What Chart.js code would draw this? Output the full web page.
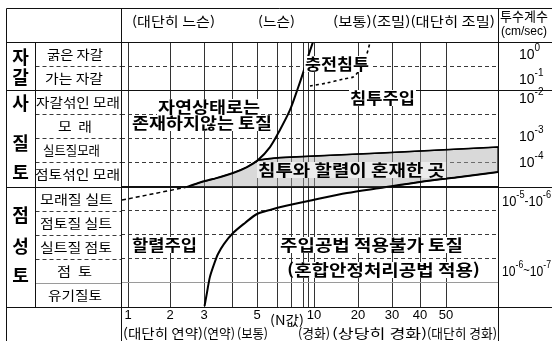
<!DOCTYPE html>
<html lang="ko">
<head>
<meta charset="utf-8">
<title>N값과 투수계수에 따른 주입공법 적용 범위</title>
<script src="https://cdn.jsdelivr.net/npm/chart.js@4.4.1/dist/chart.umd.min.js"></script>
<style>
  html, body { margin: 0; padding: 0; background: #fff; }
  #box { width: 552px; height: 341px; }
</style>
</head>
<body>
<div id="box"><canvas id="chart" width="552" height="341"></canvas></div>
<script>
// ---------- data ----------
// N value gridlines along the bottom axis
const nTicks      = [1, 2, 3, 4, 5, 6, 7, 8, 9, 10, 20, 30, 40, 50];
const nTickLabels = ['1', '2', '3', '', '5', '', '', '', '', '10', '20', '30', '40', '50'];

// soil classification rows, top to bottom
const soilGroups = [['자', '갈'], ['사', '질', '토'], ['점', '성', '토']];
const soilRows = ['굵은 자갈', '가는 자갈', '자갈섞인 모래', '모  래', '실트질모래', '점토섞인 모래',
                  '모래질 실트', '점토질 실트', '실트질 점토', '점  토', '유기질토'];

// permeability coefficient (cm/sec) exponents and the row position they sit at
const permExponents = [['0'], ['-1'], ['-2'], ['-3'], ['-4'], ['-5', '-6'], ['-6', '-7']];
const permJoiners   = ['', '', '', '', '', '-', '~'];
const permRows      = [0.46, 1.49, 2.3, 3.86, 4.94, 6.56, 9.46];

const densityLabels     = ['(대단히 느슨)', '(느슨)', '(보통)(조밀)(대단히 조밀)'];
const consistencyLabels = ['(대단히 연약)', '(연약)', '(보통)', '(경화)', '(상당히 경화)', '(대단히 경화)'];

// boundary curves: N value vs. row position (0 = top of 굵은 자갈, 11 = bottom of 유기질토)
const fractureN   = [3.02, 3.11, 3.21, 3.36, 3.5, 3.71, 4.04, 4.52, 5.0, 5.65, 6.57, 9.83, 17.5, 26.5, 40, 55.4, 70];
const fractureRow = [10.96, 10.38, 9.76, 9.22, 8.80, 8.39, 7.93, 7.51, 7.14, 6.97, 6.81, 6.56, 6.27, 6.06, 5.81, 5.60, 5.40];

const permeationExtN   = [0.857, 2.5];
const permeationExtRow = [6.56, 6.02];
const permeationN   = [2.5, 2.88, 3.32, 4.04, 4.6, 5.05, 5.65, 6.21, 6.93, 7.58, 8.0, 9.0, 9.83];
const permeationRow = [6.02, 5.83, 5.69, 5.44, 5.19, 4.90, 4.36, 3.65, 2.82, 1.91, 1.29, 0.62, 0.0];

const mixedTopN   = [5.05, 6.21, 26.5, 70];
const mixedTopRow = [4.90, 4.80, 4.61, 4.36];

const fillingN   = [9.33, 12.95, 16.6, 18.9, 20.0, 21.2, 22.35, 23.5];
const fillingRow = [1.83, 1.70, 1.54, 1.45, 1.25, 1.00, 0.62, 0.04];

// ---------- helpers ----------
const zip = (xs, ys) => xs.map((x, i) => ({ x, y: ys[i] }));

// mixed zone: under the permeation curve / upper line, above the 사질토 base row and the fracture curve
function buildMixedZone() {
  const junction = mixedTopN[0];
  const upper = zip(permeationN, permeationRow).filter(p => p.x < junction)
    .concat(zip(mixedTopN, mixedTopRow));
  const baseRow = permeationRow[0];
  const fr = zip(fractureN, fractureRow);
  const k = fr.findIndex(p => p.y < baseRow);
  const a = fr[k - 1], b = fr[k];
  const t = (a.y - baseRow) / (a.y - b.y);
  const cross = { x: a.x + t * (b.x - a.x), y: baseRow };
  const lower = [{ x: upper[0].x, y: baseRow }, cross].concat(fr.slice(k));
  return upper.concat(lower.reverse());
}

// The N axis of this diagram is hand-spaced, so it is mapped piecewise between knots.
// knot = [N value, offset in px from the left edge of the plot, out of the plot width]
const nAxisKnots = [[0.833, 0], [1, 7], [2, 49], [3, 83], [4, 111], [5, 136], [6, 156], [7, 170],
                    [8, 182], [9, 187], [10, 193], [20, 237], [30, 271], [40, 299], [50, 325], [70, 377]];
const nAxisSpan = 377;

class PiecewiseScale extends Chart.LinearScale {
  _toDecimal(v) {
    const k = nAxisKnots;
    if (v <= k[0][0]) return 0;
    for (let i = 1; i < k.length; i++) {
      if (v <= k[i][0]) {
        const t = (v - k[i - 1][0]) / (k[i][0] - k[i - 1][0]);
        return (k[i - 1][1] + t * (k[i][1] - k[i - 1][1])) / nAxisSpan;
      }
    }
    return 1;
  }
  _fromDecimal(d) {
    const k = nAxisKnots, px = d * nAxisSpan;
    for (let i = 1; i < k.length; i++) {
      if (px <= k[i][1]) {
        const t = (px - k[i - 1][1]) / (k[i][1] - k[i - 1][1]);
        return k[i - 1][0] + t * (k[i][0] - k[i - 1][0]);
      }
    }
    return k[k.length - 1][0];
  }
  getPixelForValue(v) {
    if (v === null || v === undefined || isNaN(v)) return NaN;
    return this.getPixelForDecimal(this._toDecimal(v));
  }
  getValueForPixel(p) {
    return this._fromDecimal(this.getDecimalForPixel(p));
  }
}
PiecewiseScale.id = 'piecewise';
PiecewiseScale.defaults = Chart.LinearScale.defaults;
Chart.register(PiecewiseScale);

const rowEdges = Array.from({ length: soilRows.length - 1 }, (_, i) => i + 1);
const groupEdges = [2, 6];
function rowLine(v) {
  if (groupEdges.includes(v)) return { color: '#111', dash: [] };
  if (v === 10) return { color: '#9a9a9a', dash: [] };
  return { color: '#3a3a3a', dash: [4, 3] };
}

const KR = '"Noto Sans CJK KR", "Noto Sans", sans-serif';
const LAT = '"Liberation Sans", Arial, sans-serif';

// draw a single line of text stretched to fill [x0, x1]
function fitText(ctx, text, x0, x1, y, font, color) {
  ctx.save();
  ctx.font = font;
  const w = ctx.measureText(text).width;
  ctx.translate(x0, y);
  ctx.scale((x1 - x0) / w, 1);
  ctx.textAlign = 'left';
  ctx.textBaseline = 'middle';
  ctx.fillStyle = color || '#000';
  ctx.fillText(text, 0, 0);
  ctx.restore();
}

// "10" with raised exponent(s); optional maximum width squeezes the whole run
function drawPower(ctx, exps, joiner, x, y, maxW) {
  const parts = [];
  exps.forEach((e, j) => {
    if (j > 0) parts.push([joiner, `13px ${LAT}`, 0]);
    parts.push(['10', `14px ${LAT}`, 1]);
    parts.push([e, `10px ${LAT}`, -6]);
  });
  let total = 0;
  parts.forEach(p => { ctx.font = p[1]; p.push(ctx.measureText(p[0]).width); total += p[3]; });
  const s = maxW && total > maxW ? maxW / total : 1;
  ctx.save();
  ctx.translate(x, y);
  ctx.scale(s, 1);
  ctx.textAlign = 'left';
  ctx.textBaseline = 'middle';
  ctx.fillStyle = '#000';
  let cx = 0;
  parts.forEach(p => { ctx.font = p[1]; ctx.fillText(p[0], cx, p[2]); cx += p[3]; });
  ctx.restore();
}

// region captions inside the plot: [text, x0, x1, y, background]
const regionNotes = [
  ['자연상태로는', 158, 260, 107, '#fff'],
  ['존재하지않는 토질', 132, 272, 123, '#fff'],
  ['충전침투', 305, 369, 64, '#fff'],
  ['침투주입', 350, 415, 98, '#fff'],
  ['침투와 할렬이 혼재한 곳', 258, 445, 170, '#ececec'],
  ['할렬주입', 132, 197, 245, '#fff'],
  ['주입공법 적용불가 토질', 280, 463, 245, '#fff'],
  ['(혼합안정처리공법 적용)', 287, 480, 270, '#fff']
];
const densitySpans = [[132, 215], [258, 295], [333, 495]];
const consistencySpans = [[123, 203], [203, 235], [237, 268], [298, 330], [332, 427], [427, 497]];
const rowLabelSpans = [[47, 103], [45, 103], [36, 120], [58, 92], [43, 100], [35, 120],
                       [40, 113], [40, 112], [40, 112], [57, 92], [48, 102]];
const groupGlyphY = [[57, 77], [103, 143, 172], [215, 246, 275]];

const tablePlugin = {
  id: 'soilTable',
  beforeDraw(chart) {
    const { ctx, width, height } = chart;
    ctx.save();
    ctx.fillStyle = '#fff';
    ctx.fillRect(0, 0, width, height);
    ctx.restore();
  },
  afterDraw(chart) {
    const { ctx, chartArea: a, width, height } = chart;
    const ys = chart.scales.y;
    const yPx = r => Math.round(ys.getPixelForValue(r)) + 0.5;
    const L = 6.5, G = 35.5, P = Math.round(a.left) + 0.5, R = Math.round(a.right) + 0.5;
    const T = 8.5, H = Math.round(a.top) + 0.5, B = Math.round(a.bottom) + 0.5;
    const line = (x0, y0, x1, y1) => { ctx.beginPath(); ctx.moveTo(x0, y0); ctx.lineTo(x1, y1); ctx.stroke(); };

    ctx.save();
    // row separators in the name column
    ctx.lineWidth = 1;
    rowEdges.forEach(v => {
      const s = rowLine(v);
      ctx.strokeStyle = s.color;
      ctx.setLineDash(s.dash);
      line(G, yPx(v), P, yPx(v));
    });
    ctx.setLineDash([]);
    // table frame
    ctx.strokeStyle = '#111';
    line(L, T, width, T);
    line(L, H, width, H);
    line(L, B, width, B);
    groupEdges.forEach(v => line(L, yPx(v), width, yPx(v)));
    line(L, T, L, height);
    line(P, T, P, height);
    line(R, T, R, height);
    line(G, H, G, B);

    // region captions
    regionNotes.forEach(([t, x0, x1, y, bg]) => {
      ctx.fillStyle = bg;
      ctx.fillRect(x0 - 1, y - 8, x1 - x0 + 2, 16);
      fitText(ctx, t, x0, x1, y, `bold 16px ${KR}`);
    });

    // header: relative density
    densityLabels.forEach((t, i) => fitText(ctx, t, densitySpans[i][0], densitySpans[i][1], 21, `13px ${KR}`));
    ctx.fillStyle = '#000';
    ctx.textBaseline = 'middle';
    ctx.textAlign = 'left';
    ctx.font = `13px ${KR}`;
    ctx.fillText('투수계수', 500, 16);
    ctx.font = `12px ${LAT}`;
    ctx.fillText('(cm/sec)', 501, 32);

    // bottom: consistency
    consistencyLabels.forEach((t, i) => fitText(ctx, t, consistencySpans[i][0], consistencySpans[i][1], 333, `13px ${KR}`));
    fitText(ctx, '(N값)', 270, 304, 320, `13px ${KR}`);

    // soil names
    soilRows.forEach((t, i) => fitText(ctx, t, rowLabelSpans[i][0], rowLabelSpans[i][1], ys.getPixelForValue(i + 0.5), `13px ${KR}`));
    ctx.fillStyle = '#000';
    ctx.font = `bold 18px ${KR}`;
    ctx.textAlign = 'center';
    ctx.textBaseline = 'middle';
    soilGroups.forEach((g, gi) => g.forEach((ch, ci) => ctx.fillText(ch, 20.5, groupGlyphY[gi][ci])));

    // permeability coefficients
    permExponents.forEach((ex, i) => {
      const y = ys.getPixelForValue(permRows[i]) + 1;
      if (ex.length === 1) drawPower(ctx, ex, '', 519, y);
      else drawPower(ctx, ex, permJoiners[i], 502, y, 49);
    });
    ctx.restore();
  }
};

const lineBase = { showLine: true, pointRadius: 0, borderColor: '#000', fill: false };

new Chart(document.getElementById('chart'), {
  type: 'scatter',
  data: {
    datasets: [
      { ...lineBase, label: '침투 한계', data: zip(permeationN, permeationRow), borderWidth: 2, tension: 0.3 },
      { ...lineBase, label: '침투 한계 (연장)', data: zip(permeationExtN, permeationExtRow), borderWidth: 1.5, borderDash: [4, 3] },
      { ...lineBase, label: '할렬 한계', data: zip(fractureN, fractureRow), borderWidth: 2, tension: 0.3 },
      { ...lineBase, label: '혼재역 상한', data: zip(mixedTopN, mixedTopRow), borderWidth: 1.6, tension: 0.2 },
      { ...lineBase, label: '충전침투 한계', data: zip(fillingN, fillingRow), borderWidth: 1.6, borderDash: [3, 3], tension: 0.3 },
      { ...lineBase, label: '침투와 할렬이 혼재한 곳', data: buildMixedZone(), borderWidth: 1.2,
        fill: 'shape', backgroundColor: 'rgba(170,170,170,0.45)', tension: 0 }
    ]
  },
  options: {
    responsive: false,
    animation: false,
    devicePixelRatio: 1,
    layout: { padding: { left: 121, right: 54, top: 42, bottom: 0 } },
    plugins: { legend: { display: false }, tooltip: { enabled: false } },
    scales: {
      x: {
        type: 'piecewise', min: 0.833, max: 70, position: 'bottom',
        afterBuildTicks: s => { s.ticks = nTicks.map(v => ({ value: v })); },
        afterFit: s => { s.height = 34; },
        ticks: {
          autoSkip: false, maxRotation: 0, padding: 1, color: '#000',
          font: { family: 'Liberation Sans', size: 13 },
          callback: (v, i) => nTickLabels[i]
        },
        grid: { drawTicks: false, color: '#333', lineWidth: 1 },
        border: { display: false }
      },
      y: {
        type: 'linear', min: 0, max: soilRows.length, reverse: true,
        afterBuildTicks: s => { s.ticks = rowEdges.map(v => ({ value: v })); },
        afterFit: s => { s.width = 0; },
        ticks: { display: false },
        grid: {
          drawTicks: false, lineWidth: 1,
          color: c => (c.tick ? rowLine(c.tick.value).color : '#333')
        },
        border: { display: false, dash: c => (c.tick ? rowLine(c.tick.value).dash : []) }
      }
    }
  },
  plugins: [tablePlugin]
});
</script>
</body>
</html>
